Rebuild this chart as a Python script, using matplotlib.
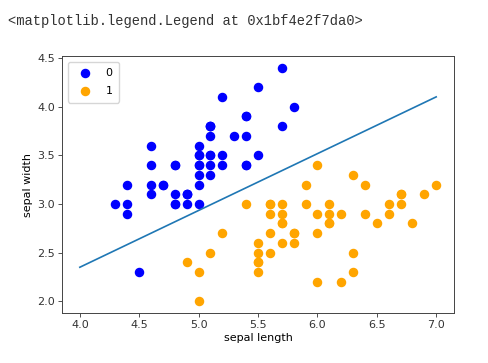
import matplotlib
matplotlib.use("Agg")
import matplotlib.pyplot as plt
import numpy as np

# iris: sepal length / sepal width, first two classes
x0 = [5.1,4.9,4.7,4.6,5.0,5.4,4.6,5.0,4.4,4.9,5.4,4.8,4.8,4.3,5.8,5.7,5.4,5.1,5.7,5.1,
      5.4,5.1,4.6,5.1,4.8,5.0,5.0,5.2,5.2,4.7,4.8,5.4,5.2,5.5,4.9,5.0,5.5,4.9,4.4,5.1,
      5.0,4.5,4.4,5.0,5.1,4.8,5.1,4.6,5.3,5.0]
y0 = [3.5,3.0,3.2,3.1,3.6,3.9,3.4,3.4,2.9,3.1,3.7,3.4,3.0,3.0,4.0,4.4,3.9,3.5,3.8,3.8,
      3.4,3.7,3.6,3.3,3.4,3.0,3.4,3.5,3.4,3.2,3.1,3.4,4.1,4.2,3.1,3.2,3.5,3.1,3.0,3.4,
      3.5,2.3,3.2,3.5,3.8,3.0,3.8,3.2,3.7,3.3]
x1 = [7.0,6.4,6.9,5.5,6.5,5.7,6.3,4.9,6.6,5.2,5.0,5.9,6.0,6.1,5.6,6.7,5.6,5.8,6.2,5.6,
      5.9,6.1,6.3,6.1,6.4,6.6,6.8,6.7,6.0,5.7,5.5,5.5,5.8,6.0,5.4,6.0,6.7,6.3,5.6,5.5,
      5.5,6.1,5.8,5.0,5.6,5.7,5.7,6.2,5.1,5.7]
y1 = [3.2,3.2,3.1,2.3,2.8,2.8,3.3,2.4,2.9,2.7,2.0,3.0,2.2,2.9,2.9,3.1,3.0,2.7,2.2,2.5,
      3.2,2.8,2.5,2.8,2.9,3.0,2.8,3.0,2.9,2.6,2.4,2.4,2.7,2.7,3.0,3.4,3.1,2.3,3.0,2.5,
      2.6,3.0,2.6,2.3,2.7,3.0,2.9,2.9,2.5,2.8]
line_x = [4.0, 7.0]
line_y = [2.35, 4.10]
labels = ['0', '1']
header = '<matplotlib.legend.Legend at 0x1bf4e2f7da0>'

fig = plt.figure(figsize=(4.88, 3.63), dpi=100)
t = fig.text(8/488, 1 - 25/363, header, fontsize=9.2,
             family=['Liberation Mono', 'DejaVu Sans Mono'],
             color='#333333', va='baseline', ha='left')
# fit header width to the reference (~353 px)
fig.canvas.draw()
w = t.get_window_extent().width
t.set_fontsize(9.2 * 353 / w)

ax = fig.add_axes([62/488, 1 - 313/363, (454-62)/488, (313-56)/363])
ax.scatter(x0, y0, color='blue', s=34, label=labels[0])
ax.scatter(x1, y1, color='orange', s=34, label=labels[1])
ax.plot(line_x, line_y, color='#1f77b4', lw=1.2)
ax.set_xlabel('sepal length', fontsize=8, labelpad=2)
ax.set_ylabel('sepal width', fontsize=8, labelpad=3)
ax.tick_params(labelsize=8, length=3, width=0.6, pad=2, colors='#333333')
ax.set_xticks([4.0,4.5,5.0,5.5,6.0,6.5,7.0])
ax.set_yticks([2.0,2.5,3.0,3.5,4.0,4.5])
for s in ax.spines.values():
    s.set_linewidth(0.7)
    s.set_color('#444444')
ax.legend(loc='upper left', fontsize=8, labelspacing=0.7, borderpad=0.6)
fig.savefig('out.png', dpi=100)
